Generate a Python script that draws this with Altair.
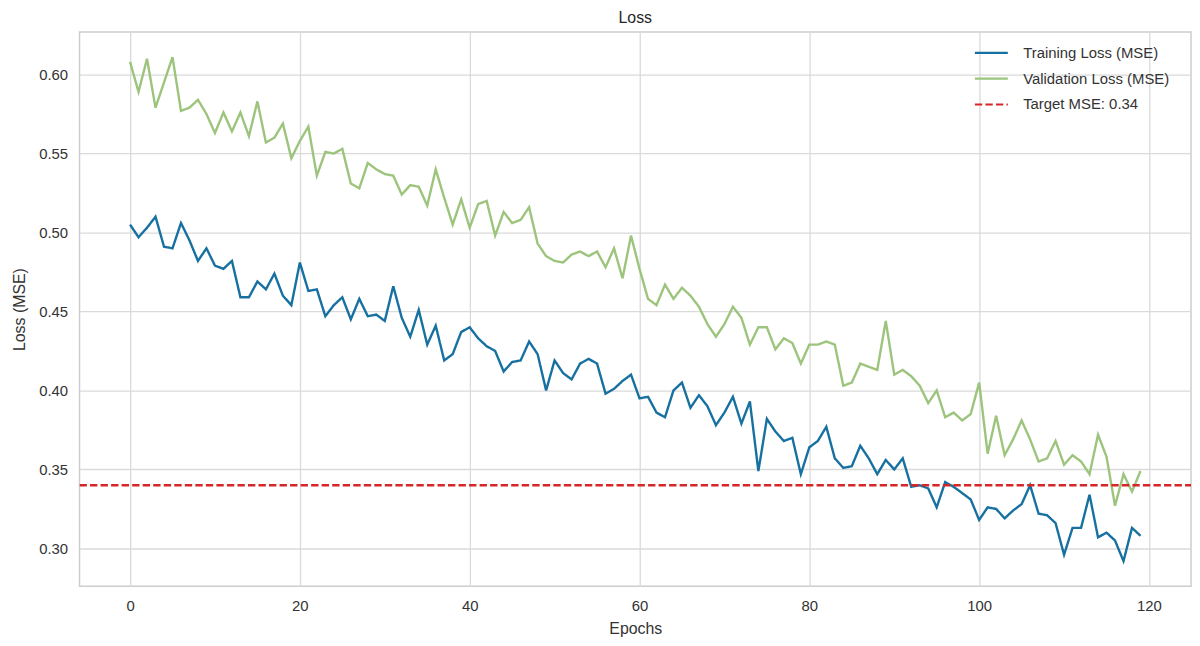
import altair as alt
import pandas as pd

epochs = list(range(120))

training_loss = [
    0.505, 0.497, 0.503, 0.510, 0.491, 0.490, 0.506, 0.495, 0.482, 0.490,
    0.479, 0.477, 0.482, 0.459, 0.459, 0.469, 0.464, 0.474, 0.460, 0.454,
    0.481, 0.463, 0.464, 0.447, 0.454, 0.459, 0.445, 0.458, 0.447, 0.448,
    0.444, 0.466, 0.446, 0.434, 0.451, 0.429, 0.441, 0.419, 0.423, 0.437,
    0.440, 0.433, 0.428, 0.425, 0.412, 0.418, 0.419, 0.431, 0.423, 0.400,
    0.419, 0.411, 0.407, 0.417, 0.420, 0.417, 0.398, 0.401, 0.406, 0.410,
    0.395, 0.396, 0.386, 0.383, 0.400, 0.405, 0.389, 0.397, 0.390, 0.378,
    0.386, 0.396, 0.379, 0.393, 0.349, 0.382, 0.374, 0.368, 0.370, 0.347,
    0.364, 0.368, 0.377, 0.357, 0.351, 0.352, 0.365, 0.357, 0.347, 0.356,
    0.350, 0.357, 0.339, 0.340, 0.338, 0.326, 0.342, 0.339, 0.335, 0.331,
    0.318, 0.326, 0.325, 0.319, 0.324, 0.328, 0.340, 0.322, 0.321, 0.316,
    0.296, 0.313, 0.313, 0.334, 0.307, 0.310, 0.305, 0.292, 0.313, 0.308,
]

validation_loss = [
    0.608, 0.589, 0.610, 0.579, 0.595, 0.611, 0.577, 0.579, 0.584, 0.575,
    0.563, 0.576, 0.564, 0.576, 0.561, 0.583, 0.557, 0.560, 0.569, 0.547,
    0.558, 0.567, 0.536, 0.551, 0.550, 0.553, 0.531, 0.528, 0.544, 0.540,
    0.537, 0.536, 0.524, 0.530, 0.529, 0.517, 0.540, 0.522, 0.505, 0.521,
    0.503, 0.518, 0.520, 0.498, 0.513, 0.506, 0.508, 0.516, 0.493, 0.485,
    0.482, 0.481, 0.486, 0.488, 0.485, 0.488, 0.478, 0.490, 0.471, 0.498,
    0.477, 0.458, 0.454, 0.467, 0.458, 0.465, 0.460, 0.453, 0.442, 0.434,
    0.442, 0.453, 0.446, 0.429, 0.440, 0.440, 0.426, 0.433, 0.430, 0.417,
    0.429, 0.429, 0.431, 0.429, 0.403, 0.405, 0.417, 0.415, 0.413, 0.444,
    0.410, 0.413, 0.409, 0.403, 0.392, 0.400, 0.383, 0.386, 0.381, 0.385,
    0.405, 0.360, 0.384, 0.359, 0.369, 0.381, 0.369, 0.355, 0.357, 0.368,
    0.353, 0.359, 0.355, 0.347, 0.372, 0.358, 0.327, 0.347, 0.336, 0.349,
]

target_mse = 0.34

series_names = ["Training Loss (MSE)", "Validation Loss (MSE)", "Target MSE: 0.34"]
series_colors = ["#1670a0", "#9cc47c", "#d62728"]
series_dashes = [[1, 0], [1, 0], [7.4, 3.2]]

x_ticks = [0, 20, 40, 60, 80, 100, 120]
y_ticks = [0.30, 0.35, 0.40, 0.45, 0.50, 0.55, 0.60]

FONT = "Liberation Sans"
TEXT = "#333333"

# matplotlib-like 5% margins
x_lo, x_hi = min(epochs), max(epochs)
x_pad = 0.05 * (x_hi - x_lo)
x_domain = [x_lo - x_pad, x_hi + x_pad]
all_vals = training_loss + validation_loss
y_lo, y_hi = min(all_vals), max(all_vals)
y_pad = 0.05 * (y_hi - y_lo)
y_domain = [y_lo - y_pad, y_hi + y_pad]

rows = []
for e, v in zip(epochs, training_loss):
    rows.append({"epoch": e, "loss": v, "series": series_names[0]})
for e, v in zip(epochs, validation_loss):
    rows.append({"epoch": e, "loss": v, "series": series_names[1]})
for e in x_domain:
    rows.append({"epoch": e, "loss": target_mse, "series": series_names[2]})
df = pd.DataFrame(rows)

legend_kw = dict(
    title=None,
    orient="none",
    legendX=900,
    legendY=3,
    symbolType="stroke",
    symbolSize=1100,
    symbolStrokeWidth=2.2,
    labelFont=FONT,
    labelFontSize=15,
    labelColor=TEXT,
    labelOffset=14,
    rowPadding=-9,
    padding=0,
)

chart = (
    alt.Chart(df)
    .mark_line(strokeWidth=2.4, clip=True)
    .encode(
        x=alt.X(
            "epoch:Q",
            scale=alt.Scale(domain=x_domain, nice=False, zero=False),
            axis=alt.Axis(values=x_ticks, title="Epochs", format="d"),
        ),
        y=alt.Y(
            "loss:Q",
            scale=alt.Scale(domain=y_domain, nice=False, zero=False),
            axis=alt.Axis(values=y_ticks, title="Loss (MSE)", format=".2f"),
        ),
        color=alt.Color(
            "series:N",
            scale=alt.Scale(domain=series_names, range=series_colors),
            legend=alt.Legend(**legend_kw),
        ),
        strokeDash=alt.StrokeDash(
            "series:N",
            scale=alt.Scale(domain=series_names, range=series_dashes),
            legend=alt.Legend(**legend_kw),
        ),
    )
    .properties(
        width=1119,
        height=558,
        title=alt.TitleParams(
            "Loss", font=FONT, fontSize=16, fontWeight="normal",
            color="#262626", offset=6, anchor="middle",
        ),
        autosize=alt.AutoSizeParams(type="none"),
        padding={"left": 72, "top": 22, "right": 1, "bottom": 52},
    )
    .configure_view(stroke="#cdcdcd", strokeWidth=1.5)
    .configure_axis(
        domain=False,
        ticks=False,
        grid=True,
        gridColor="#dadada",
        gridWidth=1.3,
        labelFont=FONT,
        labelFontSize=15,
        labelColor=TEXT,
        titleFont=FONT,
        titleFontSize=16,
        titleFontWeight="normal",
        titleColor=TEXT,
    )
    .configure_axisX(labelPadding=12, titlePadding=8)
    .configure_axisY(labelPadding=12, titlePadding=11)
)

chart.save("out.html", embed_options={"renderer": "svg", "actions": False})
